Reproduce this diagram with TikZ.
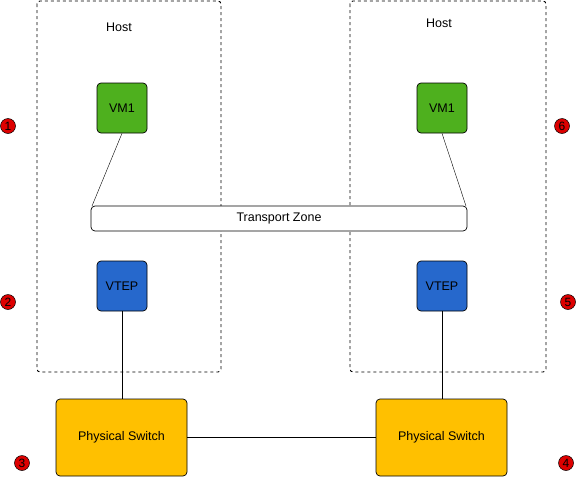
\documentclass[tikz,border=0pt]{standalone}
\usepackage{fontspec}
\setmainfont{Liberation Sans}
\definecolor{vmgreen}{RGB}{78,176,30}
\definecolor{vtepblue}{RGB}{38,104,204}
\definecolor{swyellow}{RGB}{255,192,0}
\definecolor{badgered}{RGB}{221,0,0}
\begin{document}
\begin{tikzpicture}[x=1pt,y=-1pt,
  every node/.style={font=\fontsize{12.5}{14}\selectfont},
  hostbox/.style={draw,dash pattern=on 3pt off 3pt,rounded corners=3pt,line width=0.9pt},
  vmbox/.style={draw,fill=vmgreen,rounded corners=4pt,minimum width=50pt,minimum height=50pt,inner sep=0pt,line width=0.7pt},
  vtepbox/.style={draw,fill=vtepblue,rounded corners=4pt,minimum width=50pt,minimum height=50pt,inner sep=0pt,line width=0.7pt},
  swbox/.style={draw,fill=swyellow,rounded corners=4pt,minimum width=131pt,minimum height=77pt,inner sep=0pt,line width=0.7pt},
  tzbox/.style={draw,fill=white,rounded corners=4pt,minimum width=376pt,minimum height=25pt,inner sep=0pt,line width=0.7pt},
  badge/.style={circle,draw,fill=badgered,minimum size=15pt,inner sep=0pt,line width=0.5pt,font=\fontsize{12}{12}\selectfont},
  plain/.style={inner sep=0pt}
]
\useasboundingbox (0,0) rectangle (578,477);
\draw[hostbox] (37,1) rectangle (221,372);
\draw[hostbox] (350,1) rectangle (546,372);
\node[plain] (h1) at (119,27) {Host};
\node[plain] (h2) at (439,23) {Host};
\node[vmbox] (vm1) at (122,108) {VM1};
\node[vmbox] (vm2) at (442,108) {VM1};
\node[tzbox] (tz) at (279,218.5) {Transport Zone};
\node[vtepbox] (vt1) at (122,286) {VTEP};
\node[vtepbox] (vt2) at (442,286) {VTEP};
\node[swbox] (sw1) at (121.5,437.5) {Physical Switch};
\node[swbox] (sw2) at (441.5,437.5) {Physical Switch};
\coordinate (tzl) at (92,206);
\coordinate (tzr) at (466,206);
\draw (vm1.south) -- (tzl);
\draw (vm2.south) -- (tzr);
\draw (vt1.south) -- (vt1.south |- sw1.north);
\draw (vt2.south) -- (vt2.south |- sw2.north);
\draw (sw1.east) -- (sw2.west);
\node[badge] (b1) at (8,126) {1};
\node[badge] (b2) at (8,302) {2};
\node[badge] (b3) at (22,463) {3};
\node[badge] (b4) at (566,463) {4};
\node[badge] (b5) at (568,302) {5};
\node[badge] (b6) at (562,126) {6};
\end{tikzpicture}
\end{document}
